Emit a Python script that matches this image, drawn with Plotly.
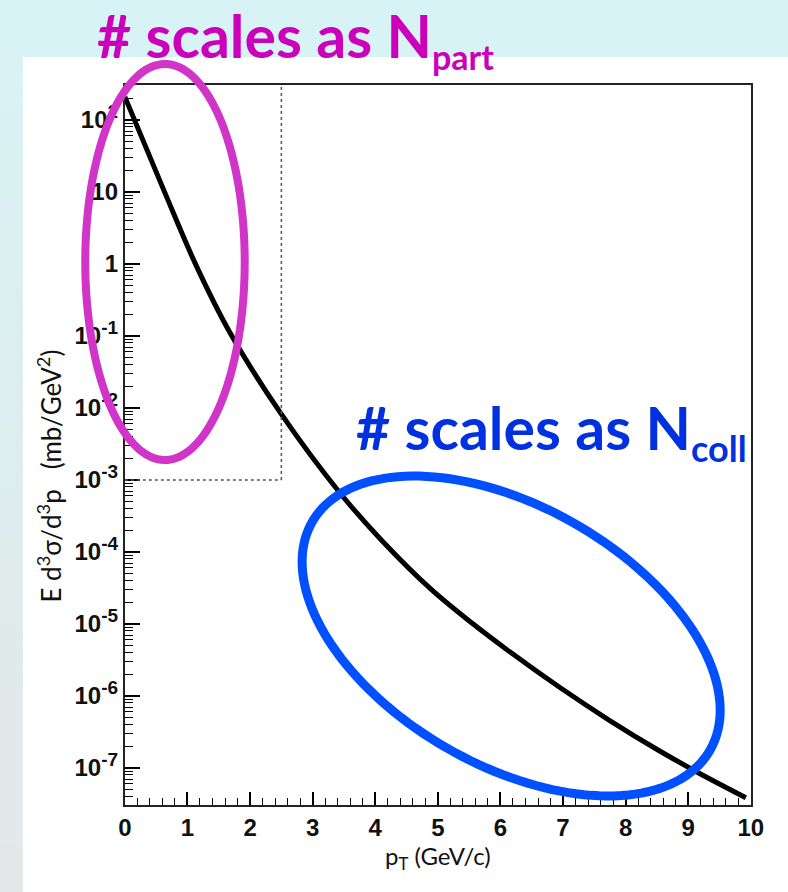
import numpy as np
import plotly.graph_objects as go

W, H = 788, 892

# Invariant cross section vs transverse momentum
pt = [0.00, 0.62, 1.14, 1.68, 2.50, 3.43, 4.10, 4.89, 5.57, 6.16, 6.95, 7.74, 8.53, 9.16, 9.92]
xsec = [209, 10.7, 0.95, 0.111, 8.2e-3, 6.7e-4, 1.46e-4, 3.05e-5, 9.9e-6,
        4.04e-6, 1.31e-6, 4.6e-7, 1.75e-7, 8.6e-8, 3.87e-8]

# Soft-region box
box_pt = 2.5
box_floor = 1e-3

# Axis ticks
x_ticks = list(range(0, 11))
y_exps = [2, 1, 0, -1, -2, -3, -4, -5, -6, -7]
y_tickvals = [10.0 ** e for e in y_exps]
SUP = "<sup><span style='font-size:19px'>%s</span></sup>"
y_ticktext = [("10" + SUP % e) if e not in (0, 1) else ("10" if e == 1 else "1") for e in y_exps]
y_minor = [m * 10.0 ** e for e in range(-8, 3) for m in range(2, 10)]

log_range = [-7.514, 2.486]

# horizontal placement helper (slide pixels -> paper fraction)
X_OFF, X_SCALE = 2.0, 0.984


def px_x(p):
    return (p - X_OFF) / X_SCALE / W


def px_y(p):
    return 1 - p / H


fig = go.Figure()

fig.add_trace(go.Scatter(
    x=pt, y=xsec, mode="lines", line=dict(color="black", width=5, shape="spline", smoothing=1.0),
    hoverinfo="skip", showlegend=False,
))

shapes = []

# slide background: cyan band on top, cyan-to-grey strip on the left
top_c = np.array([216, 243, 245])
bot_c = np.array([228, 231, 231])
shapes.append(dict(type="rect", xref="paper", yref="paper", layer="below",
                   x0=-0.02, x1=1.05, y0=px_y(57), y1=1.01,
                   fillcolor="rgb(216,243,245)", line=dict(width=0)))
nb = 40
for i in range(nb):
    f = i / (nb - 1)
    c = (top_c * (1 - f) + bot_c * f).round().astype(int)
    shapes.append(dict(type="rect", xref="paper", yref="paper", layer="below",
                       x0=-0.02, x1=px_x(18), y0=1 - (i + 1) / nb - 0.001, y1=1 - i / nb + 0.001,
                       fillcolor="rgb(%d,%d,%d)" % tuple(c), line=dict(width=0)))

# dotted soft-region box
floor_frac = (np.log10(box_floor) - log_range[0]) / (log_range[1] - log_range[0])
shapes.append(dict(type="line", xref="x", yref="y domain", x0=box_pt, x1=box_pt,
                   y0=floor_frac, y1=1, line=dict(color="#555", width=1.5, dash="dot")))
shapes.append(dict(type="line", xref="x", yref="y domain", x0=0, x1=box_pt,
                   y0=floor_frac, y1=floor_frac, line=dict(color="#555", width=1.5, dash="dot")))


def ellipse_path(cx, cy, a, b, theta_deg, n=160):
    th = np.radians(theta_deg)
    t = np.linspace(0, 2 * np.pi, n)
    xs = cx + a * np.cos(t) * np.cos(th) - b * np.sin(t) * np.sin(th)
    ys = cy + a * np.cos(t) * np.sin(th) + b * np.sin(t) * np.cos(th)
    pts = ["%.5f,%.5f" % (px_x(x), px_y(y)) for x, y in zip(xs, ys)]
    return "M" + " L".join(pts) + " Z"


# blue ellipse (hard region)
shapes.append(dict(type="path", xref="paper", yref="paper", layer="above",
                   path=ellipse_path(511, 636, 231, 129.5, 29.4),
                   line=dict(color="#0050ff", width=9)))
# magenta ellipse (soft region)
shapes.append(dict(type="path", xref="paper", yref="paper", layer="above",
                   path=ellipse_path(161.5, 262, 80.5, 198, 0),
                   line=dict(color="#d035c8", width=8)))

annotations = [
    dict(text="# scales as N<sub><span style='font-size:34px'>part</span></sub>",
         xref="paper", yref="paper",
         x=px_x(91), y=px_y(-2), xanchor="left", yanchor="top", showarrow=False,
         font=dict(family="Lato", size=59, color="#cc00bb", weight="bold")),
    dict(text="# scales as N<sub><span style='font-size:36px'>coll</span></sub>",
         xref="paper", yref="paper",
         x=px_x(352), y=px_y(390), xanchor="left", yanchor="top", showarrow=False,
         font=dict(family="Lato", size=59, color="#0030e0", weight="bold")),
    dict(text="p<sub>T</sub> (GeV/c)", xref="paper", yref="paper",
         x=px_x(437), y=px_y(857), xanchor="center", yanchor="middle", showarrow=False,
         font=dict(family="Lato", size=24, color="#111")),
    dict(text="E d<sup>3</sup>σ/d<sup>3</sup>p \u00a0\u00a0(mb/GeV<sup>2</sup>)", xref="paper", yref="paper",
         x=px_x(44), y=px_y(476), xanchor="center", yanchor="middle", showarrow=False,
         textangle=-90, font=dict(family="Lato", size=26, color="#111")),
]

tick_font = dict(family="Liberation Sans", size=24, color="#111", weight="bold")

fig.update_layout(
    width=W, height=H, autosize=False, margin=dict(l=0, r=0, t=0, b=0),
    paper_bgcolor="white", plot_bgcolor="rgba(0,0,0,0)",
    shapes=shapes, annotations=annotations, showlegend=False,
    xaxis=dict(domain=[px_x(121), px_x(753)], range=[0, 10], tickvals=x_ticks,
               ticks="inside", ticklen=13, tickwidth=1.6, tickcolor="black",
               showgrid=False, zeroline=False, showline=True, linecolor="#222", linewidth=2,
               mirror=True, tickfont=tick_font,
               minor=dict(dtick=0.2, ticks="inside", ticklen=7, tickwidth=1.3, tickcolor="black",
                          showgrid=False)),
    yaxis=dict(domain=[px_y(805), px_y(85)], type="log", range=log_range,
               tickvals=y_tickvals, ticktext=y_ticktext,
               ticks="inside", ticklen=15, tickwidth=1.6, tickcolor="black",
               showgrid=False, zeroline=False, showline=True, linecolor="#222", linewidth=2,
               mirror=True, tickfont=tick_font,
               minor=dict(tickvals=y_minor, ticks="inside", ticklen=8, tickwidth=1.3,
                          tickcolor="black", showgrid=False)),
)

fig.write_html("out.html", config={"responsive": False})
